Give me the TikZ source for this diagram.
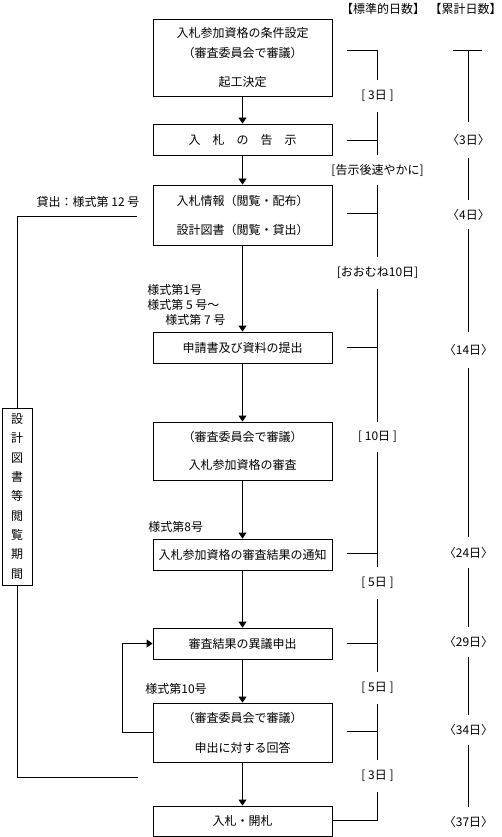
\documentclass[tikz,border=0pt]{standalone}
\usepackage{fontspec}
\setmainfont{Noto Sans CJK JP}
\newfontfamily\haltfont[RawFeature=+halt]{Noto Sans CJK JP}
\usetikzlibrary{arrows.meta}
\begin{document}
\begin{tikzpicture}[x=1pt,y=-1pt,line width=0.8pt,
  every node/.style={font=\fontsize{12}{14}\selectfont, inner sep=0pt},
  box/.style={draw, minimum width=179pt, align=center},
  arr/.style={-{Triangle[width=8pt,length=6pt]}},
  gap/.style={minimum width=20pt},
  form/.style={anchor=west},
]
\useasboundingbox (0,0) rectangle (502,837);
% headers
\node (h1) at (383,9) {\haltfont 【標準的日数】};
\node[anchor=east] (h2) at (496,9) {\haltfont 【累計日数】};
% main boxes
\node[box, minimum height=77pt] (b1) at (242.5,57.5) {入札参加資格の条件設定\\[6pt]（審査委員会で審議）\\[15pt]起工決定};
\node[box, minimum height=31pt] (b2) at (242.5,139.5) {入　札　の　告　示};
\node[box, minimum height=60pt] (b3) at (242.5,215) {入札情報（閲覧・配布）\\[15pt]設計図書（閲覧・貸出）};
\node[box, minimum height=31pt] (b4) at (242.5,347.5) {申請書及び資料の提出};
\node[box, minimum height=58pt] (b5) at (242.5,451) {（審査委員会で審議）\\[14pt]入札参加資格の審査};
\node[box, minimum height=31pt] (b6) at (242.5,554.5) {入札参加資格の審査結果の通知};
\node[box, minimum height=31pt] (b7) at (242.5,643.5) {審査結果の異議申出};
\node[box, minimum height=59pt] (b8) at (242.5,732.5) {（審査委員会で審議）\\[16pt]申出に対する回答};
\node[box, minimum height=30pt] (b9) at (242.5,821) {入札・開札};
% arrows
\draw[arr] (b1.south) -- (b2.north);
\draw[arr] (b2.south) -- (b3.north);
\draw[arr] (b3.south) -- (b4.north);
\draw[arr] (b4.south) -- (b5.north);
\draw[arr] (b5.south) -- (b6.north);
\draw[arr] (b6.south) -- (b7.north);
\draw[arr] (b7.south) -- (b8.north);
\draw[arr] (b8.south) -- (b9.north);
\draw[arr] (b8.west) -- ++(-30,0) |- (b7.west);
% form labels
\node[form] (f1) at (147,290) {様式第1号};
\node[form] (f2) at (147,305) {様式第 5 号～};
\node[form] (f3) at (165,320) {様式第 7 号};
\node[form] (f4) at (148,527) {様式第8号};
\node[form] (f5) at (145,689) {様式第10号};
% left period box
\node (lend) at (88,202) {貸出：様式第 12 号};
\node[draw, minimum width=30pt, minimum height=177pt, align=center,
  font=\fontsize{12}{19.3}\selectfont] (v) at (17,496.5)
  {設\\計\\図\\書\\等\\閲\\覧\\期\\間};
\coordinate (lt) at (137,216);
\coordinate (lb) at (138,777);
\draw (lt) -| (v.north);
\draw (v.south) |- (lb);
% standard days column
\node[gap, minimum height=32pt] (s1) at (377.5,96) {[ 3日 ]};
\node[gap, minimum height=30pt] (s2) at (377.5,170) {[告示後速やかに]};
\node[gap, minimum height=32pt] (s3) at (377.5,273) {[おおむね10日]};
\node[gap, minimum height=30pt] (s4) at (377.5,437) {[ 10日 ]};
\node[gap, minimum height=32pt] (s5) at (377.5,583) {[ 5日 ]};
\node[gap, minimum height=32pt] (s6) at (377.5,688) {[ 5日 ]};
\node[gap, minimum height=32pt] (s7) at (377.5,776) {[ 3日 ]};
\coordinate (k1) at (347,50);
\coordinate (j1) at (377.5,50);
\coordinate (k2) at (347,140);
\coordinate (j2) at (377.5,140);
\coordinate (k3) at (347,213);
\coordinate (j3) at (377.5,213);
\coordinate (k4) at (347,347);
\coordinate (j4) at (377.5,347);
\coordinate (k6) at (347,553);
\coordinate (j6) at (377.5,553);
\coordinate (k7) at (347,643);
\coordinate (j7) at (377.5,643);
\coordinate (k8) at (347,731);
\coordinate (j8) at (377.5,731);
\coordinate (j9) at (377.5,820);
\draw (k1) -- (j1) -- (s1.north);
\draw (s1.south) -- (s2.north);
\draw (s2.south) -- (s3.north);
\draw (s3.south) -- (s4.north);
\draw (s4.south) -- (s5.north);
\draw (s5.south) -- (s6.north);
\draw (s6.south) -- (s7.north);
\draw (s7.south) -- (j9) -- (b9.east |- j9);
\draw (k2) -- (j2);
\draw (k3) -- (j3);
\draw (k4) -- (j4);
\draw (k6) -- (j6);
\draw (k7) -- (j7);
\draw (k8) -- (j8);
% cumulative days column
\coordinate (ca) at (453,50);
\coordinate (cb) at (482,50);
\coordinate (cm) at (468.5,50);
\node[gap, minimum height=36pt] (c1) at (468.5,140) {\haltfont 〈3日〉};
\node[gap, minimum height=29pt] (c2) at (468.5,214.5) {\haltfont 〈4日〉};
\node[gap, minimum height=36pt] (c3) at (468.5,350) {\haltfont 〈14日〉};
\node[gap, minimum height=31pt] (c4) at (468.5,552.5) {\haltfont 〈24日〉};
\node[gap, minimum height=30pt] (c5) at (468.5,642) {\haltfont 〈29日〉};
\node[gap, minimum height=30pt] (c6) at (468.5,730) {\haltfont 〈34日〉};
\node[gap, minimum height=30pt] (c7) at (468.5,822) {\haltfont 〈37日〉};
\draw (ca) -- (cb);
\draw (cm) -- (c1.north);
\draw (c1.south) -- (c2.north);
\draw (c2.south) -- (c3.north);
\draw (c3.south) -- (c4.north);
\draw (c4.south) -- (c5.north);
\draw (c5.south) -- (c6.north);
\draw (c6.south) -- (c7.north);
\end{tikzpicture}
\end{document}
